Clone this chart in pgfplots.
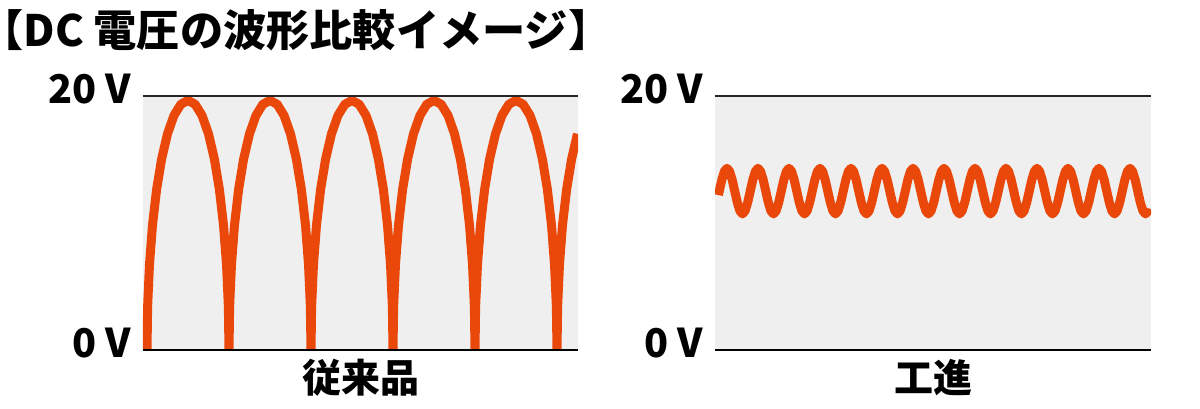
\documentclass[border=0pt]{standalone}
\usepackage{pgfplots}
\pgfplotsset{compat=1.18}
\usepackage{fontspec}
\setmainfont{Noto Sans CJK JP}
\definecolor{wave}{RGB}{234,72,10}
\definecolor{bg}{RGB}{239,239,239}
\pgfplotsset{
  wavebox/.style={
    scale only axis, height=127pt,
    ymin=0, ymax=20,
    axis line style={draw=none},
    ytick={0,20}, yticklabels={0\hspace{0.22em}V,20\hspace{0.22em}V},
    xtick=\empty, major tick length=0pt,
    axis background/.style={fill=bg},
    yticklabel style={font=\fontsize{19.8pt}{22pt}\selectfont\bfseries, anchor=east, inner sep=0pt, yshift=3.5pt, xshift=-6pt},
    xlabel style={font=\fontsize{19.5pt}{22pt}\selectfont\bfseries, at={(axis description cs:0.5,0)}, anchor=center, yshift=-14pt},
  }
}
\begin{document}
\begin{tikzpicture}
\useasboundingbox (0,0) rectangle (600pt,204pt);
\node[anchor=base west, inner sep=0pt, font=\fontsize{21.6pt}{24pt}\selectfont\bfseries] at (-10pt,180.5pt) {【DC 電圧の波形比較イメージ】};

\begin{axis}[wavebox, name=L, at={(71.5pt,29pt)}, anchor=south west, width=217.5pt, xmin=-2, xmax=433, xlabel={従来品}]
\addplot[wave, line width=4.5pt, line join=round, line cap=butt] coordinates {
(2,0) (2.62,3.41) (4.47,6.72) (7.49,9.83) (11.59,12.63) (16.65,15.05) (22.5,17.02) (28.98,18.47) (35.88,19.35) (43,19.65) (50.12,19.35) (57.02,18.47) (63.5,17.02) (69.35,15.05) (74.41,12.63) (78.51,9.83) (81.53,6.72) (83.38,3.41) (84,0)
(84.62,3.41) (86.47,6.72) (89.49,9.83) (93.59,12.63) (98.65,15.05) (104.5,17.02) (110.98,18.47) (117.88,19.35) (125,19.65) (132.12,19.35) (139.02,18.47) (145.5,17.02) (151.35,15.05) (156.41,12.63) (160.51,9.83) (163.53,6.72) (165.38,3.41) (166,0)
(166.62,3.41) (168.47,6.72) (171.49,9.83) (175.59,12.63) (180.65,15.05) (186.5,17.02) (192.98,18.47) (199.88,19.35) (207,19.65) (214.12,19.35) (221.02,18.47) (227.5,17.02) (233.35,15.05) (238.41,12.63) (242.51,9.83) (245.53,6.72) (247.38,3.41) (248,0)
(248.62,3.41) (250.47,6.72) (253.49,9.83) (257.59,12.63) (262.65,15.05) (268.5,17.02) (274.98,18.47) (281.88,19.35) (289,19.65) (296.12,19.35) (303.02,18.47) (309.5,17.02) (315.35,15.05) (320.41,12.63) (324.51,9.83) (327.53,6.72) (329.38,3.41) (330,0)
(330.62,3.41) (332.47,6.72) (335.49,9.83) (339.59,12.63) (344.65,15.05) (350.5,17.02) (356.98,18.47) (363.88,19.35) (371,19.65) (378.12,19.35) (385.02,18.47) (391.5,17.02) (397.35,15.05) (402.41,12.63) (406.51,9.83) (409.53,6.72) (411.38,3.41) (412,0)
(412.62,3.41) (414.47,6.72) (417.49,9.83) (421.59,12.63) (426.65,15.05) (432.5,17.02)
};
\end{axis}

\begin{axis}[wavebox, name=R, at={(357.5pt,29pt)}, anchor=south west, width=218pt, xmin=0, xmax=436, xlabel={工進}]
\addplot[wave, line width=4.5pt, line join=round, line cap=butt] coordinates {
(3.4,12.20) (4.25,12.51) (6.83,13.41) (9.42,14.07)
(12,14.31) (14.58,14.07) (17.17,13.41) (19.75,12.51) (22.33,11.61) (24.92,10.95) (27.5,10.71) (30.08,10.95) (32.67,11.61) (35.25,12.51) (37.83,13.41) (40.42,14.07)
(43,14.31) (45.58,14.07) (48.17,13.41) (50.75,12.51) (53.33,11.61) (55.92,10.95) (58.5,10.71) (61.08,10.95) (63.67,11.61) (66.25,12.51) (68.83,13.41) (71.42,14.07)
(74,14.31) (76.58,14.07) (79.17,13.41) (81.75,12.51) (84.33,11.61) (86.92,10.95) (89.5,10.71) (92.08,10.95) (94.67,11.61) (97.25,12.51) (99.83,13.41) (102.42,14.07)
(105,14.31) (107.58,14.07) (110.17,13.41) (112.75,12.51) (115.33,11.61) (117.92,10.95) (120.5,10.71) (123.08,10.95) (125.67,11.61) (128.25,12.51) (130.83,13.41) (133.42,14.07)
(136,14.31) (138.58,14.07) (141.17,13.41) (143.75,12.51) (146.33,11.61) (148.92,10.95) (151.5,10.71) (154.08,10.95) (156.67,11.61) (159.25,12.51) (161.83,13.41) (164.42,14.07)
(167,14.31) (169.58,14.07) (172.17,13.41) (174.75,12.51) (177.33,11.61) (179.92,10.95) (182.5,10.71) (185.08,10.95) (187.67,11.61) (190.25,12.51) (192.83,13.41) (195.42,14.07)
(198,14.31) (200.58,14.07) (203.17,13.41) (205.75,12.51) (208.33,11.61) (210.92,10.95) (213.5,10.71) (216.08,10.95) (218.67,11.61) (221.25,12.51) (223.83,13.41) (226.42,14.07)
(229,14.31) (231.58,14.07) (234.17,13.41) (236.75,12.51) (239.33,11.61) (241.92,10.95) (244.5,10.71) (247.08,10.95) (249.67,11.61) (252.25,12.51) (254.83,13.41) (257.42,14.07)
(260,14.31) (262.58,14.07) (265.17,13.41) (267.75,12.51) (270.33,11.61) (272.92,10.95) (275.5,10.71) (278.08,10.95) (280.67,11.61) (283.25,12.51) (285.83,13.41) (288.42,14.07)
(291,14.31) (293.58,14.07) (296.17,13.41) (298.75,12.51) (301.33,11.61) (303.92,10.95) (306.5,10.71) (309.08,10.95) (311.67,11.61) (314.25,12.51) (316.83,13.41) (319.42,14.07)
(322,14.31) (324.58,14.07) (327.17,13.41) (329.75,12.51) (332.33,11.61) (334.92,10.95) (337.5,10.71) (340.08,10.95) (342.67,11.61) (345.25,12.51) (347.83,13.41) (350.42,14.07)
(353,14.31) (355.58,14.07) (358.17,13.41) (360.75,12.51) (363.33,11.61) (365.92,10.95) (368.5,10.71) (371.08,10.95) (373.67,11.61) (376.25,12.51) (378.83,13.41) (381.42,14.07)
(384,14.31) (386.58,14.07) (389.17,13.41) (391.75,12.51) (394.33,11.61) (396.92,10.95) (399.5,10.71) (402.08,10.95) (404.67,11.61) (407.25,12.51) (409.83,13.41) (412.42,14.07)
(415,14.31) (417.58,14.07) (420.17,13.41) (422.75,12.51) (425.33,11.61) (427.92,10.95) (430.5,10.71) (433.08,10.95) (434,11.14)
};
\end{axis}

\draw[black!85, line width=0.8pt] (L.north west) -- (L.north east);
\draw[black, line width=1pt] (L.south west) -- (L.south east);
\draw[black!85, line width=0.8pt] (R.north west) -- (R.north east);
\draw[black, line width=1pt] (R.south west) -- (R.south east);
\end{tikzpicture}
\end{document}
